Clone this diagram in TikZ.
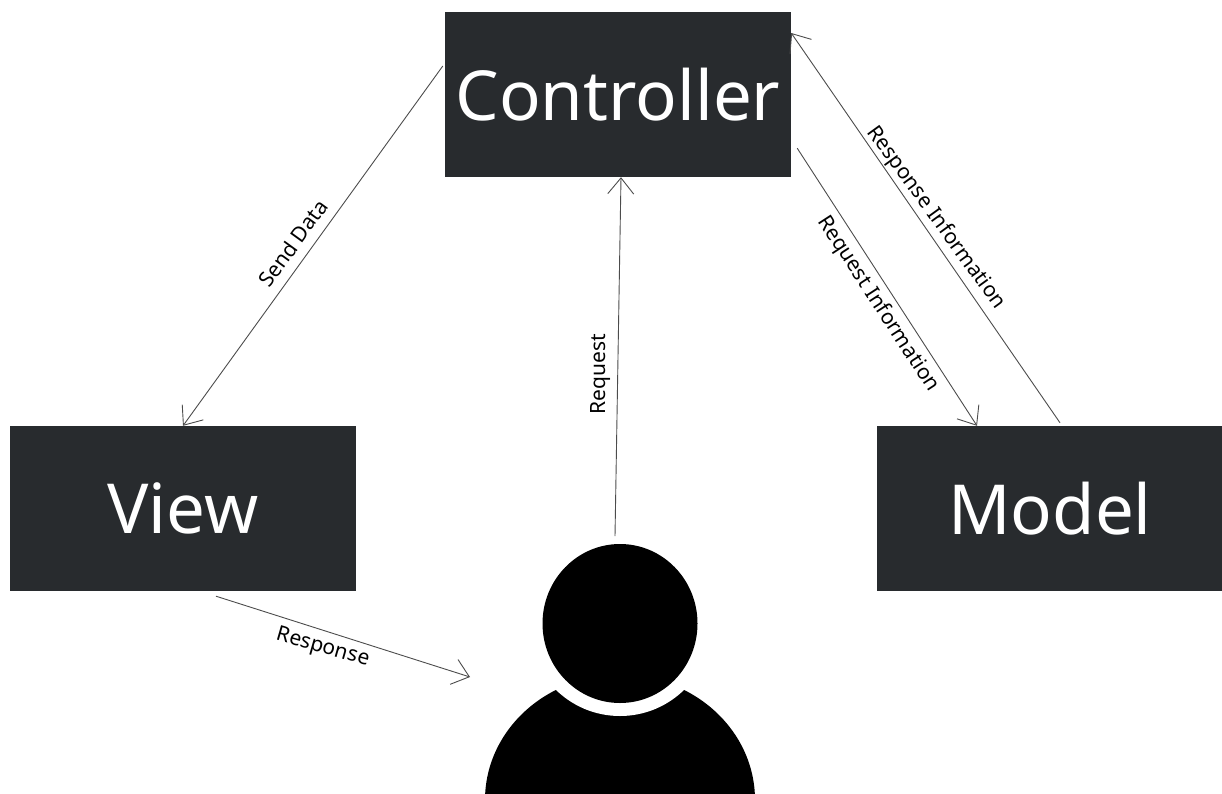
\documentclass[tikz,border=0pt]{standalone}
\usepackage{fontspec}
\setmainfont{Noto Sans}
\usetikzlibrary{calc}
\usetikzlibrary{arrows.meta}
\usetikzlibrary{positioning}
\usetikzlibrary{shapes.geometric}
\definecolor{boxgray}{HTML}{282B2E}
\tikzset{block/.style={rectangle, fill=boxgray, text=white, inner sep=0pt, minimum width=346pt, minimum height=165pt, font=\fontsize{69}{71}\selectfont}}
\tikzset{connect/.style={draw, line width=0.9pt, black!70, -{Straight Barb[length=16pt,width=26pt]}}}
\tikzset{tag/.style={font=\fontsize{21}{23}\selectfont, inner sep=0pt, black}}
\begin{document}
\begin{tikzpicture}[x=1pt,y=-1pt]
\useasboundingbox (0,0) rectangle (1222,794);
\node[block] (ctrl) at (618,94.5) {Controller};
\node[block] (view) at (183,508.5) {View};
\node[block] (model) at (1050,508.5) {Model};
% user figure
\begin{scope}
\clip (400,600) rectangle (850,794);
\fill[black] (620,800) ellipse (135pt and 125pt);
\end{scope}
\fill[white] (620,623.5) ellipse (92pt and 92.5pt);
\node[ellipse,fill=black,minimum width=155pt,minimum height=159pt,inner sep=0pt] (head) at (620,623.5) {};
\coordinate (headtop) at (615,536);
\coordinate (userside) at (470,677);
\draw[connect] ([shift={(-2,-28.5)}]ctrl.west) -- (view.north);
\draw[connect] (headtop) -- ([xshift=3pt]ctrl.south);
\draw[connect] ([shift={(6,-29)}]ctrl.south east) -- ([xshift=-73pt]model.north);
\draw[connect] ([shift={(10,-3)}]model.north) -- ([yshift=61.5pt]ctrl.east);
\draw[connect] ([shift={(33,5)}]view.south) -- (userside);
\node[tag,rotate=54] (senddata) at (293,243) {Send Data};
\node[tag,rotate=90] (request) at (601,374) {Request};
\node[tag,rotate=-57] (reqinfo) at (878,304) {Request Information};
\node[tag,rotate=-54] (respinfo) at (936,218) {Response Information};
\node[tag,rotate=-16] (response) at (323,648) {Response};
\end{tikzpicture}
\end{document}
